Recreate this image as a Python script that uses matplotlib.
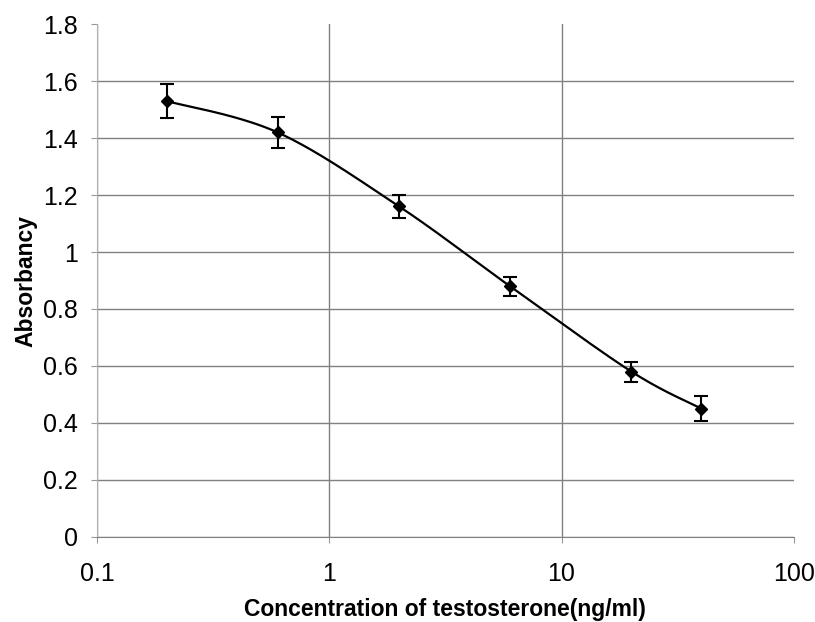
import matplotlib.pyplot as plt
import numpy as np

plt.rcParams['font.family'] = ['Liberation Sans', 'DejaVu Sans']

# concentration (ng/ml), absorbancy, error
conc = [0.2, 0.6, 2, 6, 20, 40]
absorb = [1.53, 1.42, 1.16, 0.88, 0.58, 0.45]
err = [0.06, 0.055, 0.042, 0.033, 0.035, 0.045]


def smooth_curve(xs, ys, n=40):
    # Excel-like smoothed line (Catmull-Rom Bezier) in log-x space
    lx = np.log10(xs)
    pts = np.column_stack([lx, ys])
    out = []
    for i in range(len(pts) - 1):
        p0 = pts[i - 1] if i > 0 else pts[i]
        p1 = pts[i]
        p2 = pts[i + 1]
        p3 = pts[i + 2] if i + 2 < len(pts) else pts[i + 1]
        c1 = p1 + (p2 - p0) / 6
        c2 = p2 - (p3 - p1) / 6
        t = np.linspace(0, 1, n)[:, None]
        seg = ((1 - t) ** 3 * p1 + 3 * (1 - t) ** 2 * t * c1
               + 3 * (1 - t) * t ** 2 * c2 + t ** 3 * p2)
        out.append(seg)
    out = np.vstack(out)
    return 10 ** out[:, 0], out[:, 1]


fig, ax = plt.subplots(figsize=(8.15, 6.22), dpi=100)
fig.subplots_adjust(left=0.119, right=0.974, top=0.961, bottom=0.137)

sx, sy = smooth_curve(conc, absorb)
ax.plot(sx, sy, color='black', lw=1.6)
ax.errorbar(conc, absorb, yerr=err, fmt='D', color='black', ms=6,
            capsize=5, elinewidth=1.5, capthick=1.5)

ax.set_xscale('log')
ax.set_xlim(0.1, 100)
ax.set_ylim(0, 1.8)
ax.set_yticks(np.arange(0, 1.81, 0.2))
ax.set_yticklabels(['0', '0.2', '0.4', '0.6', '0.8', '1', '1.2', '1.4', '1.6', '1.8'])
ax.set_xticks([0.1, 1, 10, 100])
ax.set_xticklabels(['0.1', '1', '10', '100'])
ax.minorticks_off()
ax.tick_params(labelsize=18, length=4, color='#999999')
ax.tick_params(axis='y', pad=10)
ax.tick_params(axis='x', pad=14)

ax.grid(True, color='#808080', lw=1)
ax.get_xgridlines()[-1].set_visible(False)
ax.get_ygridlines()[-1].set_visible(False)
ax.set_axisbelow(True)
for side in ['top', 'right']:
    ax.spines[side].set_visible(False)
ax.spines['left'].set_color('#b0b0b0')
ax.spines['bottom'].set_color('#808080')

ax.set_xlabel('Concentration of testosterone(ng/ml)', fontsize=16.5,
              fontweight='bold', labelpad=9)
ax.set_ylabel('Absorbancy', fontsize=16.5, fontweight='bold', labelpad=4)

plt.savefig('out.png', dpi=100)
